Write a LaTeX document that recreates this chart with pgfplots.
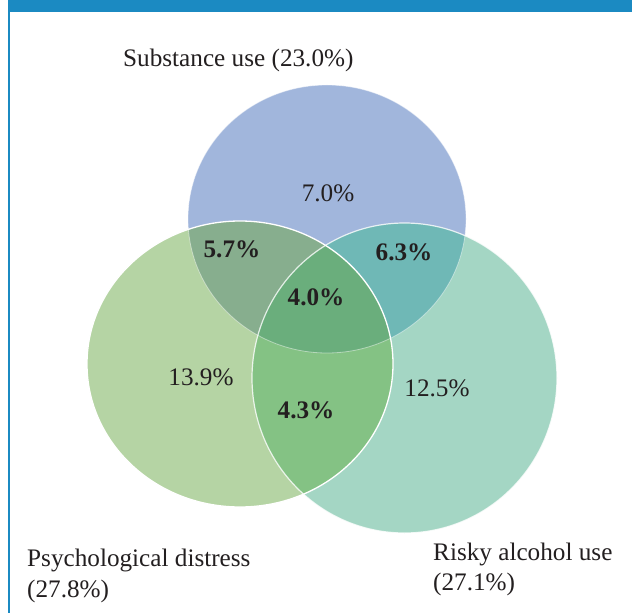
\documentclass[border=0pt]{standalone}
\usepackage{pgfplots}
\pgfplotsset{compat=1.18}
\usepackage{fontspec}
\setmainfont{Liberation Serif}
\definecolor{cB}{RGB}{161,182,220}
\definecolor{cG}{RGB}{181,212,164}
\definecolor{cT}{RGB}{164,214,196}
\definecolor{cBG}{RGB}{135,174,142}
\definecolor{cBT}{RGB}{111,184,182}
\definecolor{cGT}{RGB}{132,194,132}
\definecolor{cAll}{RGB}{106,174,124}
\definecolor{cHead}{RGB}{27,138,194}
\definecolor{cTxt}{RGB}{35,31,32}
\begin{document}
\begin{tikzpicture}
\begin{axis}[scale only axis, width=632bp, height=613bp,
  xmin=0, xmax=632, ymin=0, ymax=613, y dir=reverse,
  hide axis, clip=false]
\fill[white] (axis cs:0,0) rectangle (axis cs:632,613);
\fill[cHead] (axis cs:8,0) rectangle (axis cs:632,12.5);
\fill[cHead] (axis cs:8,0) rectangle (axis cs:9.8,613);
% single sets
\fill[cB] (axis cs:327,219) ellipse [x radius=139bp, y radius=134bp];
\fill[cG] (axis cs:240,364) ellipse [x radius=153bp, y radius=143bp];
\fill[cT] (axis cs:404.5,378) ellipse [x radius=152.5bp, y radius=155bp];
% pairwise
\begin{scope}
\clip (axis cs:327,219) ellipse [x radius=139bp, y radius=134bp];
\fill[cBG] (axis cs:240,364) ellipse [x radius=153bp, y radius=143bp];
\fill[cBT] (axis cs:404.5,378) ellipse [x radius=152.5bp, y radius=155bp];
\end{scope}
\begin{scope}
\clip (axis cs:240,364) ellipse [x radius=153bp, y radius=143bp];
\fill[cGT] (axis cs:404.5,378) ellipse [x radius=152.5bp, y radius=155bp];
\end{scope}
% triple
\begin{scope}
\clip (axis cs:327,219) ellipse [x radius=139bp, y radius=134bp];
\clip (axis cs:240,364) ellipse [x radius=153bp, y radius=143bp];
\fill[cAll] (axis cs:404.5,378) ellipse [x radius=152.5bp, y radius=155bp];
\end{scope}
% outlines
\draw[white, opacity=0.45, line width=0.8bp] (axis cs:327,219) ellipse [x radius=139bp, y radius=134bp];
\draw[white, opacity=0.8, line width=1.2bp] (axis cs:404.5,378) ellipse [x radius=152.5bp, y radius=155bp];
\draw[white, line width=1.3bp] (axis cs:240,364) ellipse [x radius=153bp, y radius=143bp];
% labels
\begin{scope}[every node/.style={text=cTxt, inner sep=0pt, font=\fontsize{25.3}{30}\selectfont}]
\node[anchor=base west] at (axis cs:123,67) {Substance use (23.0\%)};
\node[anchor=base west] at (axis cs:27,566) {Psychological distress};
\node[anchor=base west] at (axis cs:27,597) {(27.8\%)};
\node[anchor=base west] at (axis cs:433,560) {Risky alcohol use};
\node[anchor=base west] at (axis cs:433,590) {(27.1\%)};
\node at (axis cs:328,193) {7.0\%};
\node at (axis cs:201,377) {13.9\%};
\node at (axis cs:437,388) {12.5\%};
\node[font=\fontsize{25.3}{30}\selectfont\bfseries] at (axis cs:232,249) {5.7\%};
\node[font=\fontsize{25.3}{30}\selectfont\bfseries] at (axis cs:404,252) {6.3\%};
\node[font=\fontsize{25.3}{30}\selectfont\bfseries] at (axis cs:316,297) {4.0\%};
\node[font=\fontsize{25.3}{30}\selectfont\bfseries] at (axis cs:306,410) {4.3\%};
\end{scope}
\end{axis}
\end{tikzpicture}
\end{document}
